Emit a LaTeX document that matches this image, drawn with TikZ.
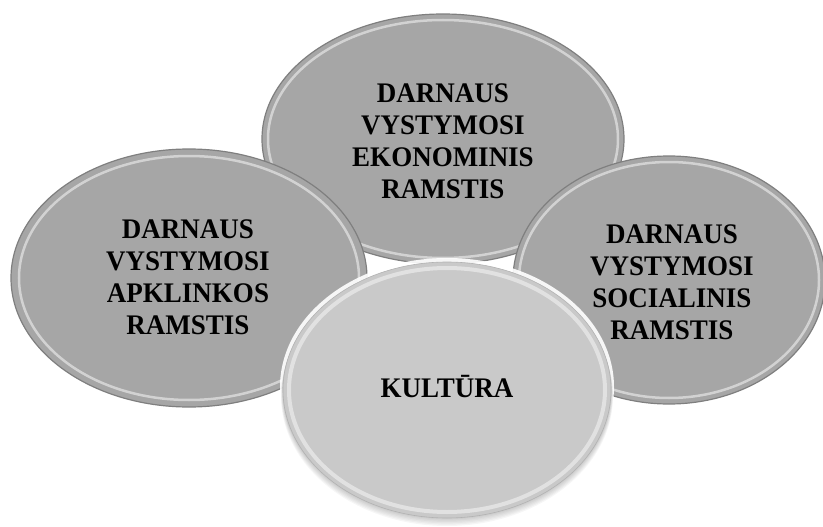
\documentclass[tikz,border=0pt]{standalone}
\usepackage{fontspec}
\setmainfont{Liberation Serif}
\usepackage{tikz}
\usetikzlibrary{shapes.geometric}
\definecolor{pillgray}{HTML}{A6A6A6}
\definecolor{rimgray}{HTML}{7F7F7F}
\definecolor{coregray}{HTML}{C9C9C9}
\tikzset{
  pillar/.style={ellipse, fill=pillgray, draw=rimgray, line width=1.2pt, inner sep=0pt},
  core/.style={ellipse, fill=coregray, draw=gray!60, line width=0.6pt, inner sep=0pt},
  pilltext/.style={font=\bfseries\fontsize{27}{30.5}\selectfont, align=center, text=black,
    transform shape, yscale=1.05},
  shine/.style={white, opacity=0.5, line width=2.5pt}
}
\begin{document}
\begin{tikzpicture}[x=1pt, y=-1pt]
    \useasboundingbox (0,0) rectangle (823,527);

    % top pillar
    \node[pillar, minimum width=362pt, minimum height=250pt] (econ) at (443,139) {};
    \draw[shine] (econ.center) ellipse [x radius=175, y radius=119];
    % left pillar
    \node[pillar, minimum width=356pt, minimum height=258pt] (env) at (189,278) {};
    \draw[shine] (env.center) ellipse [x radius=170, y radius=122];
    % right pillar
    \node[pillar, minimum width=312pt, minimum height=248pt] (soc) at (669,280) {};
    \draw[shine] (soc.center) ellipse [x radius=150, y radius=118];

    % glow and soft shadow round culture
    \fill[white, opacity=0.9] (447,387) ellipse [x radius=167, y radius=129];
    \foreach \dd in {1,2,...,6}
      \fill[black, opacity=0.035] (447,390+\dd) ellipse [x radius=164+\dd/3, y radius=128+\dd/3];
    \node[core, minimum width=328pt, minimum height=256pt] (cult) at (447,390) {};
    \draw[white, opacity=0.45, line width=4pt] (cult.center) ellipse [x radius=158, y radius=122];

    % labels
    \node[pilltext] (econtxt) at (443,141) {DARNAUS\\VYSTYMOSI\\EKONOMINIS\\RAMSTIS};
    \node[pilltext] (envtxt) at (188,277) {DARNAUS\\VYSTYMOSI\\APKLINKOS\\RAMSTIS};
    \node[pilltext] (soctxt) at (672,282) {DARNAUS\\VYSTYMOSI\\SOCIALINIS\\RAMSTIS};
    \node[pilltext] (culttxt) at (447,387) {KULTŪRA};
\end{tikzpicture}
\end{document}
